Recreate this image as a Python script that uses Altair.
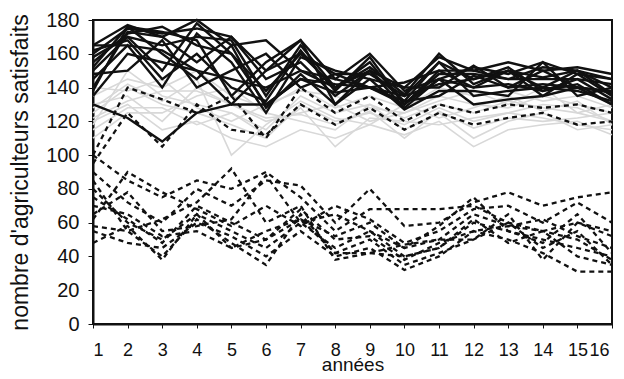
import altair as alt
import pandas as pd

years = list(range(1, 17))

# solid black lines (high satisfaction group)
solid = [
    [165, 177, 170, 180, 165, 168, 150, 140, 150, 140, 158, 150, 155, 150, 152, 148],
    [160, 175, 172, 175, 170, 150, 168, 145, 160, 138, 145, 152, 148, 155, 148, 145],
    [155, 172, 176, 165, 160, 138, 160, 148, 148, 135, 155, 145, 150, 140, 150, 140],
    [150, 170, 165, 170, 168, 135, 165, 140, 155, 130, 150, 150, 145, 145, 145, 142],
    [145, 165, 140, 172, 155, 125, 158, 150, 145, 140, 140, 153, 140, 150, 140, 138],
    [140, 173, 170, 155, 170, 145, 155, 135, 150, 128, 145, 140, 150, 135, 148, 135],
    [135, 160, 155, 150, 145, 140, 150, 145, 140, 132, 155, 135, 138, 140, 138, 132],
    [162, 168, 145, 160, 140, 132, 162, 138, 158, 130, 148, 148, 145, 152, 150, 136],
    [158, 170, 150, 178, 160, 130, 145, 142, 140, 135, 142, 145, 152, 138, 142, 130],
    [152, 176, 160, 145, 165, 128, 148, 130, 145, 127, 138, 138, 135, 155, 135, 140],
    [148, 150, 168, 140, 150, 160, 140, 148, 140, 143, 150, 140, 142, 138, 145, 133],
    [138, 176, 173, 168, 135, 155, 168, 130, 150, 132, 135, 147, 140, 142, 140, 137],
    [165, 165, 162, 150, 130, 150, 160, 140, 152, 136, 160, 142, 150, 146, 150, 145],
    [130, 122, 108, 125, 130, 130, 145, 137, 140, 130, 145, 130, 133, 135, 140, 130],
]

# light grey lines (middle group)
grey = [
    [125, 140, 130, 125, 118, 110, 130, 120, 125, 118, 128, 120, 125, 122, 118, 115],
    [118, 150, 135, 130, 125, 115, 135, 125, 130, 122, 130, 125, 132, 128, 125, 120],
    [130, 135, 120, 140, 130, 120, 125, 130, 120, 125, 135, 130, 128, 135, 130, 125],
    [110, 125, 125, 135, 140, 125, 120, 115, 130, 115, 125, 110, 120, 125, 115, 118],
    [135, 145, 140, 150, 135, 128, 140, 128, 135, 128, 140, 135, 138, 132, 135, 128],
    [120, 130, 115, 120, 110, 105, 115, 110, 118, 112, 120, 105, 115, 118, 120, 112],
    [140, 138, 145, 128, 120, 130, 138, 135, 128, 125, 132, 138, 130, 140, 125, 130],
    [115, 128, 128, 118, 125, 112, 128, 105, 122, 120, 118, 122, 125, 130, 128, 120],
    [128, 142, 132, 145, 100, 118, 132, 122, 118, 130, 122, 128, 135, 126, 132, 118],
    [122, 132, 138, 138, 130, 122, 124, 118, 126, 110, 126, 116, 122, 120, 122, 125],
]

# dashed black lines (low satisfaction group)
dashed = [
    [100, 140, 133, 125, 135, 110, 140, 125, 135, 120, 130, 125, 130, 128, 130, 125],
    [95, 125, 105, 130, 115, 112, 130, 118, 128, 115, 125, 118, 122, 125, 118, 120],
    [80, 60, 50, 65, 55, 45, 60, 45, 55, 40, 45, 60, 55, 50, 45, 40],
    [75, 62, 48, 70, 60, 50, 68, 50, 52, 38, 48, 55, 58, 55, 50, 38],
    [58, 55, 40, 62, 48, 35, 65, 42, 50, 35, 42, 50, 60, 45, 55, 35],
    [100, 85, 75, 85, 80, 90, 75, 55, 68, 68, 68, 70, 60, 55, 60, 55],
    [90, 72, 60, 80, 70, 85, 82, 60, 80, 58, 60, 72, 78, 70, 75, 78],
    [55, 48, 45, 60, 52, 40, 55, 40, 45, 32, 40, 55, 50, 42, 31, 31],
    [70, 65, 52, 55, 45, 55, 62, 52, 60, 45, 50, 65, 58, 62, 52, 45],
    [62, 90, 78, 68, 58, 70, 58, 70, 62, 48, 55, 68, 70, 60, 72, 60],
    [48, 58, 38, 65, 45, 50, 62, 42, 42, 47, 50, 50, 65, 38, 60, 52],
    [85, 55, 62, 72, 92, 60, 70, 38, 42, 40, 45, 62, 48, 55, 40, 35],
    [65, 78, 55, 58, 62, 88, 60, 65, 55, 45, 58, 75, 55, 48, 65, 42],
]


def to_df(series_list, prefix):
    rows = []
    for i, vals in enumerate(series_list):
        for yr, v in zip(years, vals):
            rows.append({"année": yr, "valeur": v, "série": f"{prefix}{i}"})
    return pd.DataFrame(rows)


x_enc = alt.X(
    "année:Q",
    scale=alt.Scale(domain=[1, 16], nice=False, zero=False),
    axis=alt.Axis(
        values=years,
        title="années",
        titleY=46,
        titleBaseline="alphabetic",
        titleFontSize=19,
        labelPadding=13,
        labelFontSize=18,
        labelOverlap=False,
        labelOffset=alt.condition("datum.value == 16", alt.value(-3), alt.value(0)),
        tickSize=4,
        grid=False,
    ),
)
y_enc = alt.Y(
    "valeur:Q",
    scale=alt.Scale(domain=[0, 180], nice=False),
    axis=alt.Axis(
        values=list(range(0, 181, 20)),
        title="nombre d'agriculteurs satisfaits",
        titleX=-73,
        titleY=152,
        titleAngle=-90,
        titleBaseline="middle",
        titleAlign="center",
        titleFontSize=23,
        labelPadding=9,
        labelFontSize=20,
        labelOverlap=False,
        tickSize=5,
        grid=False,
    ),
)

g_layer = alt.Chart(to_df(grey, "g")).mark_line(
    color="#d8d8d8", strokeWidth=1.6
).encode(x=x_enc, y=y_enc, detail="série:N")

d_layer = alt.Chart(to_df(dashed, "d")).mark_line(
    color="#111111", strokeWidth=2.3, strokeDash=[5, 4]
).encode(x=x_enc, y=y_enc, detail="série:N")

s_layer = alt.Chart(to_df(solid, "s")).mark_line(
    color="#111111", strokeWidth=2.4
).encode(x=x_enc, y=y_enc, detail="série:N")

chart = (
    alt.layer(g_layer, d_layer, s_layer)
    .properties(
        width=519,
        height=304,
        autosize=alt.AutoSizeParams(type="none"),
        padding={"left": 85, "top": 12, "right": 4, "bottom": 47},
    )
    .configure(background="white")
    .configure_view(stroke="#111111", strokeWidth=2)
    .configure_axis(
        domainColor="#111111",
        domainWidth=2,
        tickColor="#111111",
        labelColor="#111111",
        titleColor="#111111",
        labelFont="Liberation Sans",
        titleFont="Liberation Sans",
        titleFontWeight="normal",
    )
)

chart.save("out.html", embed_options={"renderer": "svg", "actions": False})
